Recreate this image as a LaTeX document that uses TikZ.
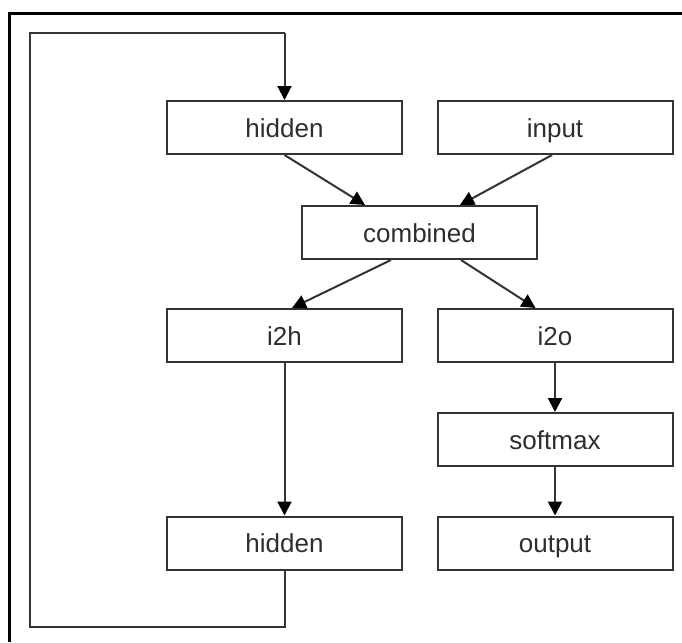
\documentclass[tikz,border=0pt]{standalone}
\usepackage{fontspec}
\setmainfont{Liberation Sans}
\usetikzlibrary{arrows.meta,calc}
\definecolor{ln}{HTML}{333333}
\definecolor{tx}{HTML}{2E2E2E}
\tikzset{
  box/.style={draw=ln, line width=2pt, minimum width=235pt, minimum height=53pt, inner sep=0pt,
    text height=22pt, text depth=3pt,
    font=\fontsize{26}{30}\selectfont, text=tx},
  conn/.style={draw=ln, line width=2pt, -{Triangle[width=14pt,length=14pt,fill=black,color=black]}},
  plain/.style={draw=ln, line width=2pt},
  frame/.style={draw=black, line width=3pt}
}
\begin{document}
\begin{tikzpicture}[x=1pt,y=-1pt]
\useasboundingbox (0,0) rectangle (682,642);
% frame (top and left edges visible)
\coordinate (fbl) at (9,642);
\coordinate (ftl) at (9,14);
\coordinate (ftr) at (682,14);
\draw[frame] (fbl) -- (ftl) -- (ftr);

\node[box] (hid1) at (284.5,127.5) {hidden};
\node[box] (inp) at (555,127.5) {input};
\node[box] (comb) at (419.5,232.5) {combined};
\node[box] (i2h) at (284.5,335.5) {i2h};
\node[box] (i2o) at (555,335.5) {i2o};
\node[box] (soft) at (555,439.5) {softmax};
\node[box] (hid2) at (284.5,543) {hidden};
\node[box] (out) at (555,543) {output};

\draw[conn] (hid1.south) -- ([xshift=64pt]comb.north west);
\draw[conn] ([xshift=-3pt]inp.south) -- ([xshift=159pt]comb.north west);
\draw[conn] ([xshift=90pt]comb.south west) -- ([xshift=126pt]i2h.north west);
\draw[conn] ([xshift=160pt]comb.south west) -- ([xshift=99pt]i2o.north west);
\draw[conn] (i2h.south) -- (hid2.north);
\draw[conn] (i2o.south) -- (soft.north);
\draw[conn] (soft.south) -- (out.north);

% recurrent loop
\coordinate (lb1) at (284.5,627);
\coordinate (lb2) at (30,627);
\coordinate (lt1) at (30,33);
\coordinate (lt2) at (284.5,33);
\draw[plain] (hid2.south) -- (lb1) -- (lb2) -- (lt1) -- (lt2);
\draw[conn] (lt2) -- (hid1.north);
\end{tikzpicture}
\end{document}
